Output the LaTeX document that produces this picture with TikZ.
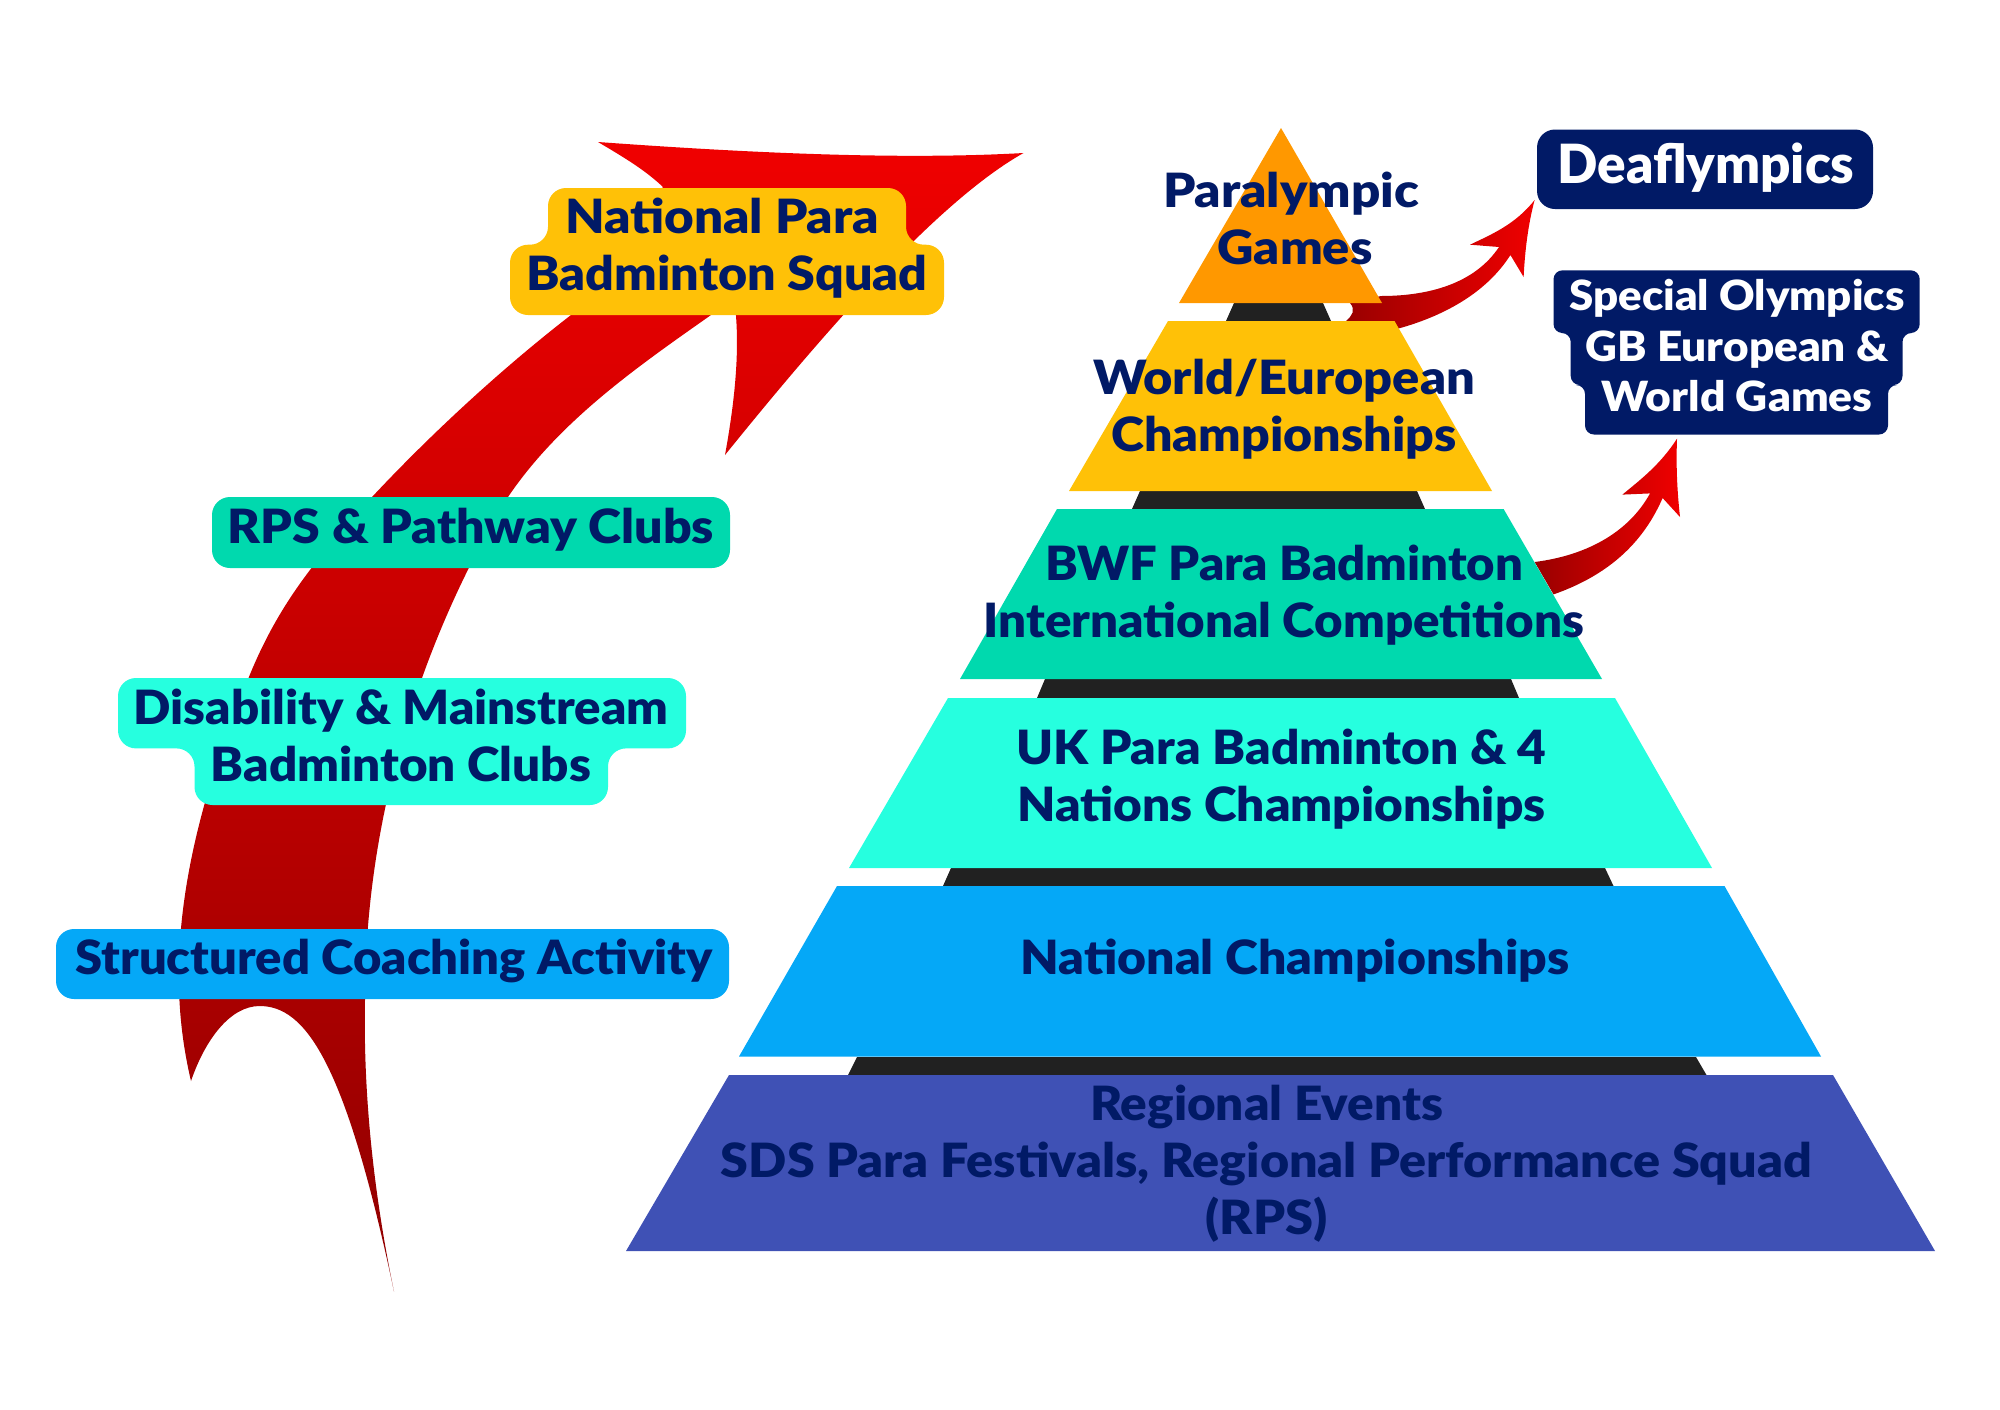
\documentclass[tikz,border=0pt]{standalone}
\usepackage{fontspec}
\usepackage{graphicx}
\setmainfont{Lato}[BoldFont=* Black]
\definecolor{navy}{HTML}{011A66}
\definecolor{c1}{HTML}{FF9800}
\definecolor{c2}{HTML}{FFC107}
\definecolor{c3}{HTML}{00D9AE}
\definecolor{c4}{HTML}{26FFDF}
\definecolor{c5}{HTML}{05A8F7}
\definecolor{c6}{HTML}{3F51B5}
\definecolor{band}{HTML}{212121}
\definecolor{redA}{HTML}{F00000}
\definecolor{redB}{HTML}{AA0000}
\definecolor{redC}{HTML}{900000}
% a line of text set to a given width in reference pixels
\newcommand{\fwx}[2]{\strut\resizebox{\dimexpr#1pt/2\relax}{\height}{#2}}
\tikzset{
  main/.style={inner sep=0pt,align=center,text=navy,font=\fontsize{23.6}{28.5}\selectfont\bfseries},
  whitetxt/.style={main,text=white},
  labelbox/.style={rounded corners=9pt},
  smallshade/.style={left color=redB!90!black,right color=redA},
}
\begin{document}
\begin{tikzpicture}[x=0.5pt,y=-0.5pt]
\useasboundingbox (0,0) rectangle (2000,1409);
% big arrow
\shade[top color=redA,middle color=redB,bottom color=redC]
 (598,142) .. controls (750,153) and (900,160) .. (1023.5,153)
 .. controls (940,200) and (830,325) .. (725,455)
 .. controls (735,400) and (740,350) .. (735,305)
 -- (711,315)
 .. controls (640,365) and (560,420) .. (508,497)
 .. controls (445,600) and (365,780) .. (365,1000)
 .. controls (363,1100) and (375,1200) .. (394,1291.5)
 .. controls (345,1060) and (305,1006) .. (259.6,1006)
 .. controls (230,1006) and (205,1040) .. (191,1081)
 .. controls (172,1000) and (165,880) .. (248.5,678)
 .. controls (280,600) and (320,555) .. (372,497)
 .. controls (430,435) and (500,370) .. (571,315)
 -- (663,187)
 .. controls (645,170) and (625,158) .. (598,142) -- cycle;
% dark bands
\fill[band] (1234,303)--(1323,303)--(1331,321)--(1226,321)--cycle;
\fill[band] (1140,491)--(1417,491)--(1425,509)--(1132,509)--cycle;
\fill[band] (1045,679)--(1511,679)--(1519,698)--(1037,698)--cycle;
\fill[band] (951,868)--(1605,868)--(1613.5,886)--(943,886)--cycle;
\fill[band] (857,1057)--(1696,1057)--(1706.5,1075)--(848,1075)--cycle;
% small arrows
\shade[smallshade]
 (1534.6,200) .. controls (1515,225) and (1490,235) .. (1470,244.7)
 -- (1499,247)
 .. controls (1475,283) and (1430,296) .. (1381,296)
 -- (1350,303)
 .. controls (1356,310) and (1352,316) .. (1346,321)
 -- (1398.5,328.5)
 .. controls (1440,317) and (1485,295) .. (1510.4,255)
 -- (1523.6,277)
 .. controls (1525,250) and (1528,225) .. (1534.6,200) -- cycle;
\shade[smallshade]
 (1677,438.7) .. controls (1660,465) and (1640,480) .. (1622.4,494.6)
 -- (1650,493.4)
 .. controls (1630,530) and (1590,555) .. (1534.6,562)
 -- (1553.5,594.4)
 .. controls (1600,578) and (1640,550) .. (1662.6,498)
 -- (1680,517)
 .. controls (1677,490) and (1676,465) .. (1677,438.7) -- cycle;
% pyramid
\fill[c1] (1281,128)--(1382,303)--(1179,303)--cycle;
\fill[c2] (1168,321)--(1394.5,321)--(1492,491)--(1069,491)--cycle;
\fill[c3] (1057,509)--(1503.6,509)--(1602,679)--(960,679)--cycle;
\fill[c4] (948,698)--(1615,698)--(1712,868)--(849,868)--cycle;
\fill[c5] (837,886)--(1724.5,886)--(1821,1056.5)--(739,1056.5)--cycle;
\fill[c6] (729,1075)--(1833,1075)--(1935,1251)--(626,1251)--cycle;
% label boxes
\fill[navy,labelbox] (1537,129.5) rectangle (1873,209);
\fill[navy,rounded corners=4.5pt] (1553.5,270.3)--(1919.7,270.3)--(1919.7,333)--(1902.5,333)--(1902.5,385)--(1888,385)--(1888,434.5)--(1585,434.5)--(1585,385)--(1570.7,385)--(1570.7,333)--(1553.5,333)--cycle;
\fill[c2,labelbox] (548,188)--(906,188)--(906,244.7)--(944,244.7)--(944,315)--(510,315)--(510,244.7)--(548,244.7)--cycle;
\fill[c3,labelbox] (212,497) rectangle (730,568);
\fill[c4,labelbox] (118,678)--(686,678)--(686,748.4)--(608,748.4)--(608,805)--(194.5,805)--(194.5,748.4)--(118,748.4)--cycle;
\fill[c5,labelbox] (56,929) rectangle (729,999);
% texts
\node[main] (paralympic) at (1291,225) {\fwx{256}{Paralympic}\\\hspace*{4pt}\fwx{155}{Games}};
\node[main] (world) at (1284,412) {\fwx{382}{World/European}\\\fwx{345}{Championships}};
\node[main] (bwf) at (1284,598) {\fwx{478}{BWF Para Badminton}\\\fwx{600}{International Competitions}};
\node[main] (uk) at (1281.5,782) {\fwx{530}{UK Para Badminton \& 4}\\\fwx{528}{Nations Championships}};
\node[main] (nat) at (1295,962.6) {\fwx{549}{National Championships}};
\node[main] (reg) at (1266.5,1166) {\fwx{353}{Regional Events}\\\fwx{1091}{SDS Para Festivals, Regional Performance Squad}\\\fwx{122}{(RPS)}};
\node[main] (squad) at (727,251) {\fwx{314}{National Para}\rule{5pt}{0pt}\\\fwx{401}{Badminton Squad}};
\node[main] (rpsc) at (471,532) {\fwx{486}{RPS \& Pathway Clubs}};
\node[main] (dis) at (401,741.5) {\fwx{535}{Disability \& Mainstream}\\\fwx{380}{Badminton Clubs}};
\node[main] (coach) at (394,963) {\fwx{637}{Structured Coaching Activity}};
\node[whitetxt,font=\fontsize{27}{33}\selectfont\bfseries] (deaf) at (1706,170) {\fwx{297}{Deaflympics}};
\node[whitetxt,font=\fontsize{20.8}{25.4}\selectfont\bfseries] (special) at (1737,351) {\fwx{335}{Special Olympics}\\\fwx{303}{GB European \&}\\\fwx{271}{World Games}};
\end{tikzpicture}
\end{document}
